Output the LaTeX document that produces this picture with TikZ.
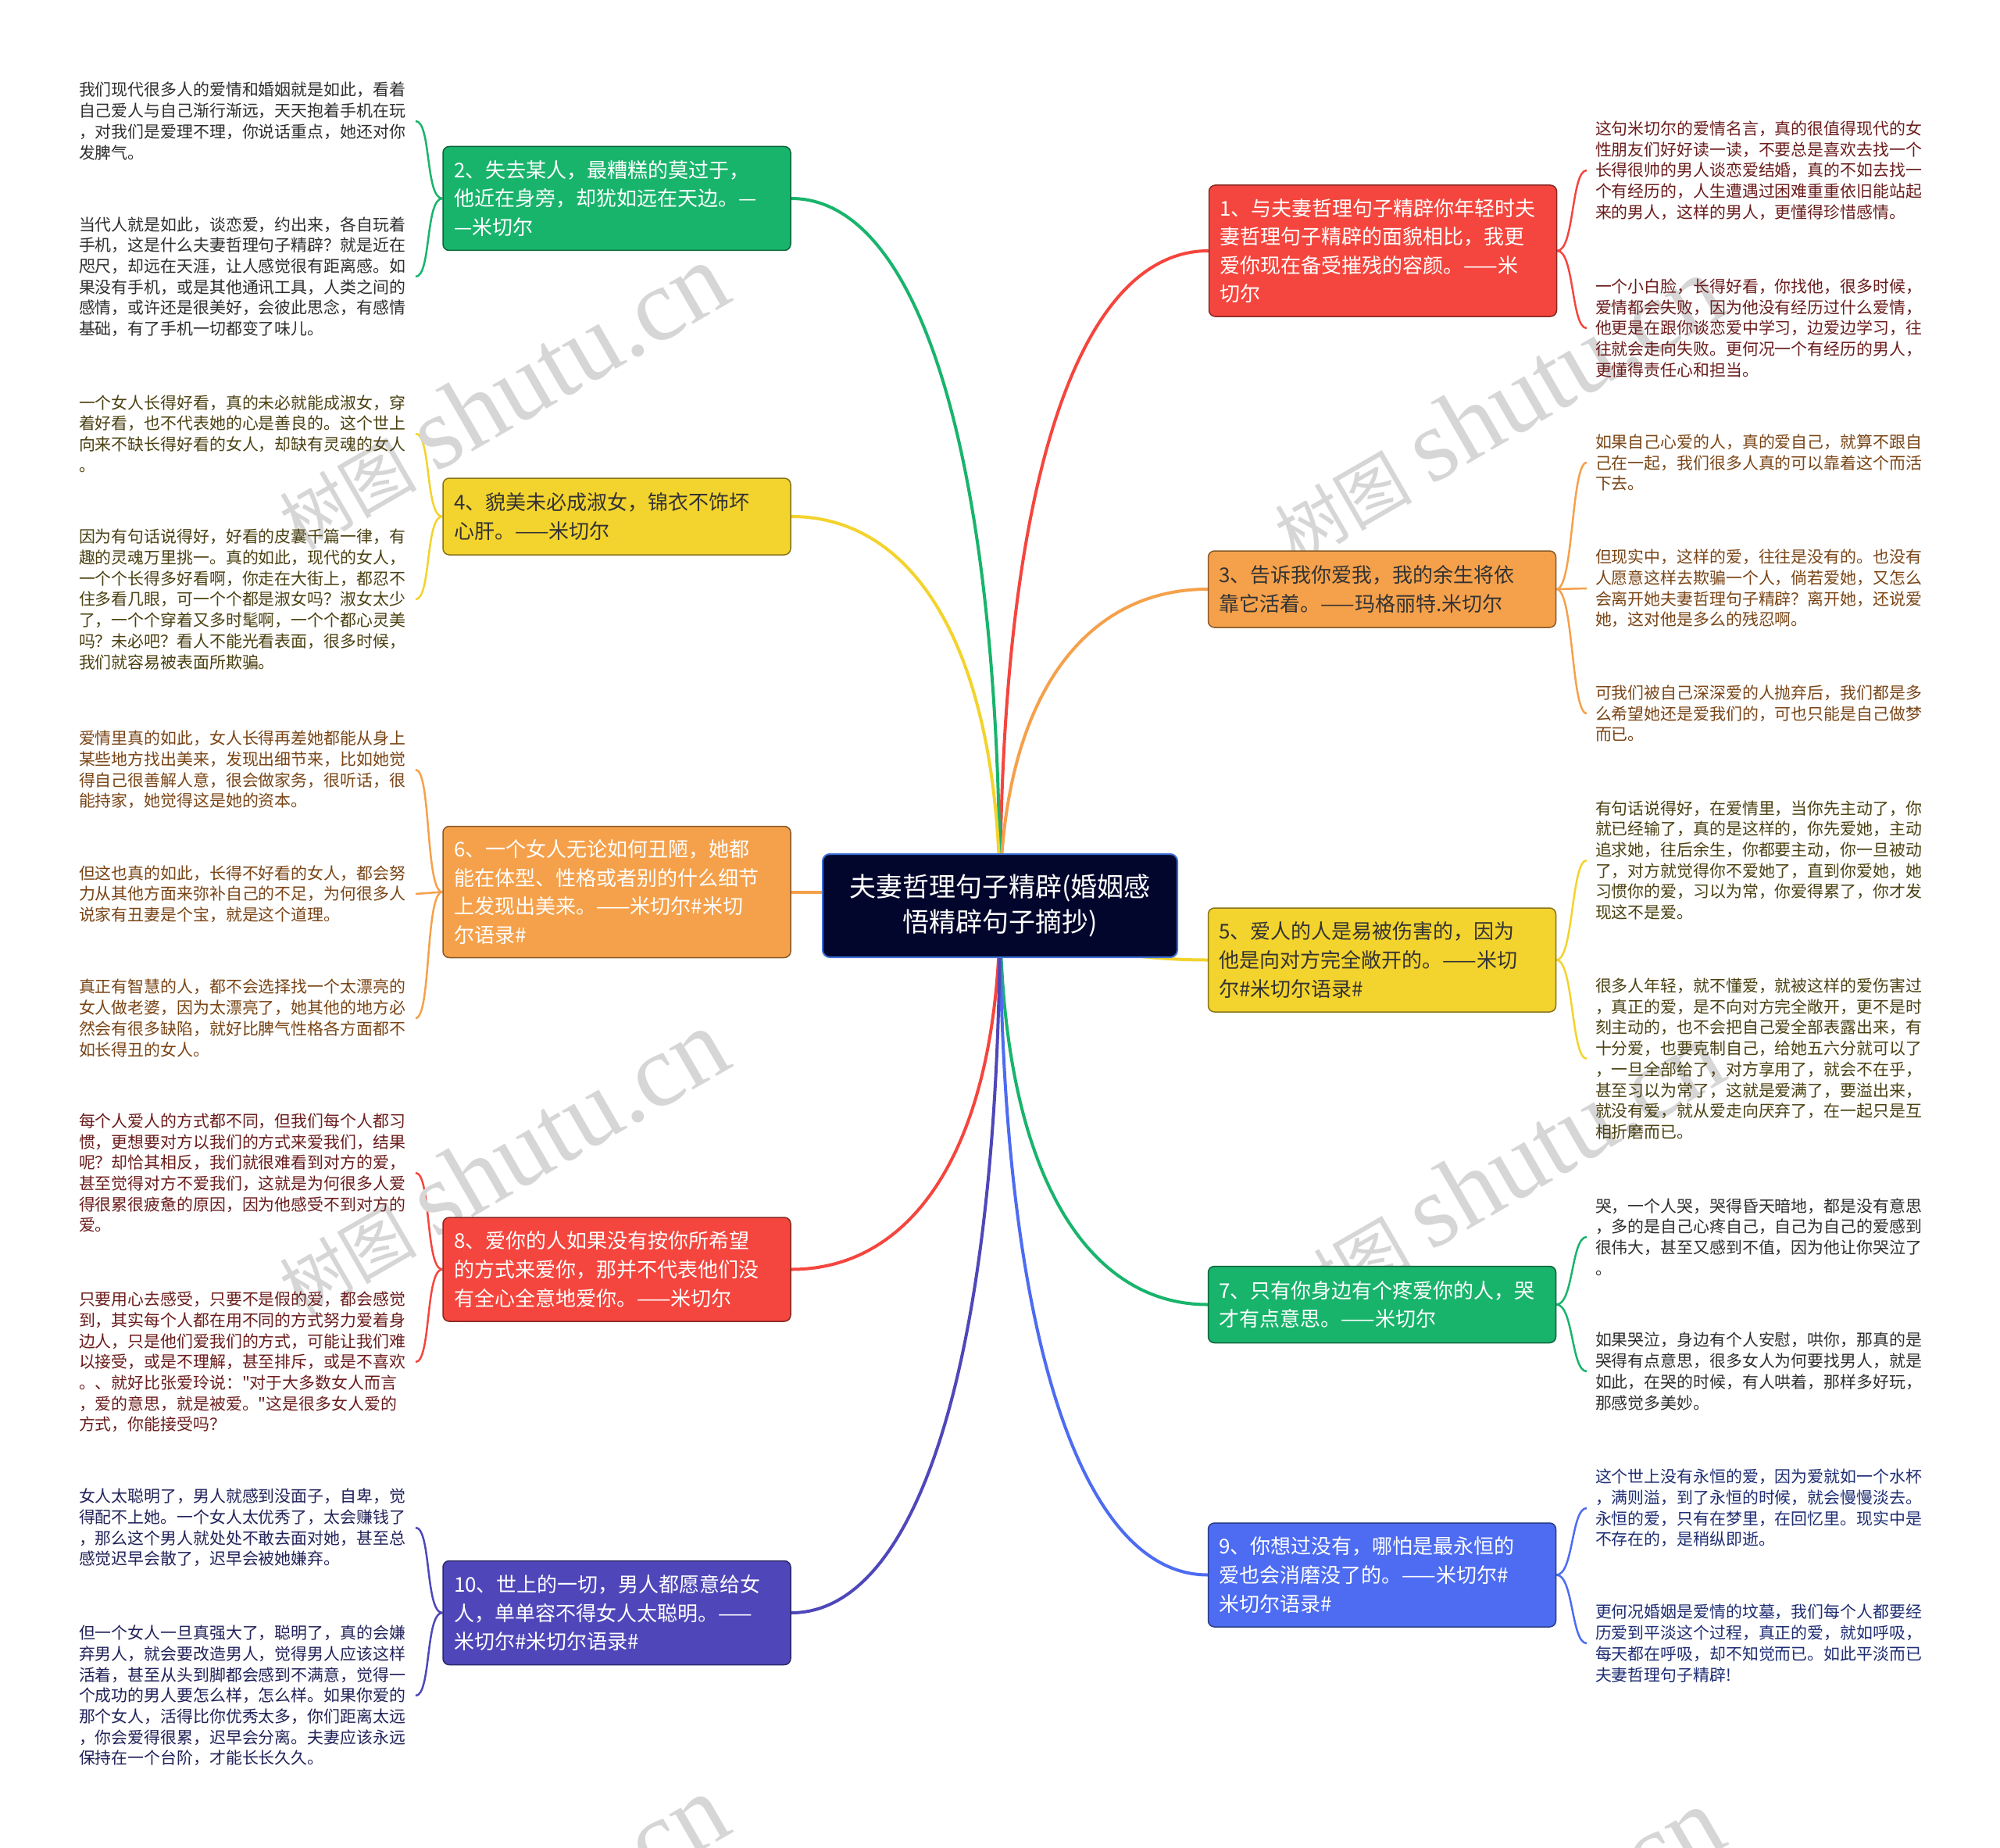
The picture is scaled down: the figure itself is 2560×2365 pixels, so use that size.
\documentclass[tikz,border=0pt]{standalone}
\usepackage{fontspec}
\setmainfont{Noto Sans CJK SC}[Ligatures=TeXOff]
\newfontfamily\wmlat{Liberation Serif}
\usetikzlibrary{calc}
\pgfdeclarelayer{paper}
\pgfdeclarelayer{bg}
\pgfdeclarelayer{wm}
\pgfsetlayers{paper,bg,wm,main}

\definecolor{cgreen}{HTML}{19B46C}
\definecolor{cred}{HTML}{F4463E}
\definecolor{corange}{HTML}{F5A14B}
\definecolor{cyellow}{HTML}{F3D32D}
\definecolor{cblue}{HTML}{4D6CF1}
\definecolor{cpurple}{HTML}{4F47B9}
\definecolor{cnavy}{HTML}{03062C}
\definecolor{cnavyline}{HTML}{3B6FD6}
\definecolor{tgreen}{HTML}{2E2E2E}
\definecolor{tyellow}{HTML}{4B4112}
\definecolor{torange}{HTML}{7A4516}
\definecolor{tred}{HTML}{6B1C1C}
\definecolor{tpurple}{HTML}{22225A}
\definecolor{tblue}{HTML}{1F2D73}
\definecolor{tdark}{HTML}{333333}
\definecolor{wmgray}{HTML}{D6D6D6}

\tikzset{
  branch/.style={rectangle, rounded corners=8pt, fill=#1, draw=#1!55!black,
    line width=1.5pt, text width=417pt, inner xsep=14pt, inner ysep=0pt,
    align=left, text=white, font=\fontsize{26}{36.6}\selectfont},
  two/.style={minimum height=98pt},
  three/.style={minimum height=133pt},
  four/.style={minimum height=168pt},
  leaftext/.style={anchor=west, inner sep=0pt, outer xsep=11pt, text width=420pt,
    align=left, text=#1, font=\fontsize{20.9}{26.7}\selectfont},
  mainline/.style={line width=4pt, #1},
  leafline/.style={line width=2.5pt, #1},
  wmark/.style={text=wmgray, rotate=30, inner sep=0pt, font=\fontsize{88}{88}\selectfont}
}
\newcommand\lconn[3]{\draw[leafline=#1] (#2.west) .. controls ($(#2.west)+(-22,0)$) and ($(#3.east)+(20,0)$) .. (#3.east);}
\newcommand\rconn[3]{\draw[leafline=#1] (#2.east) .. controls ($(#2.east)+(22,0)$) and ($(#3.west)+(-20,0)$) .. (#3.west);}
\newcommand\wmtext{树图\hspace{24pt}{\wmlat\fontsize{132}{132}\selectfont shutu.cn}}

\begin{document}
\begin{tikzpicture}[x=1pt,y=-1pt]
\useasboundingbox (0,0) rectangle (2560,2365);
\begin{pgfonlayer}{paper}
\fill[white] (0,0) rectangle (2560,2365);
\end{pgfonlayer}

% centre
\node[rectangle, rounded corners=9pt, fill=cnavy, draw=cnavyline, line width=2pt,
  minimum width=454pt, minimum height=132pt, align=center, text=white,
  font=\fontsize{34}{45}\selectfont] (C) at (1280,1159)
  {夫妻哲理句子精辟(婚姻感\\悟精辟句子摘抄)};

% branches
\node[branch=cred, four] (N1) at (1770,321)
  {1、与夫妻哲理句子精辟你年轻时夫\\妻哲理句子精辟的面貌相比，我更\\爱你现在备受摧残的容颜。——米\\切尔};
\node[branch=cgreen, three] (N2) at (789.5,254)
  {2、失去某人，最糟糕的莫过于，\\他近在身旁，却犹如远在天边。—\\—米切尔};
\node[branch=corange, two, text=tdark] (N3) at (1769,754)
  {3、告诉我你爱我，我的余生将依\\靠它活着。——玛格丽特.米切尔};
\node[branch=cyellow, two, text=tdark] (N4) at (789.5,661)
  {4、貌美未必成淑女，锦衣不饰坏\\心肝。——米切尔};
\node[branch=cyellow, three, text=tdark] (N5) at (1769,1228.5)
  {5、爱人的人是易被伤害的，因为\\他是向对方完全敞开的。——米切\\尔\#米切尔语录\#};
\node[branch=corange, four] (N6) at (789.5,1141.5)
  {6、一个女人无论如何丑陋，她都\\能在体型、性格或者别的什么细节\\上发现出美来。——米切尔\#米切\\尔语录\#};
\node[branch=cgreen, two] (N7) at (1769,1669.5)
  {7、只有你身边有个疼爱你的人，哭\\才有点意思。——米切尔};
\node[branch=cred, three] (N8) at (789.5,1624.5)
  {8、爱你的人如果没有按你所希望\\的方式来爱你，那并不代表他们没\\有全心全意地爱你。——米切尔};
\node[branch=cblue, three] (N9) at (1769,2015.5)
  {9、你想过没有，哪怕是最永恒的\\爱也会消磨没了的。——米切尔\#\\米切尔语录\#};
\node[branch=cpurple, three] (N10) at (789.5,2064)
  {10、世上的一切，男人都愿意给女\\人，单单容不得女人太聪明。——\\米切尔\#米切尔语录\#};

% left leaves
\node[leaftext=tgreen] (L2a) at (90,155) {我们现代很多人的爱情和婚姻就是如此，看着\\自己爱人与自己渐行渐远，天天抱着手机在玩\\，对我们是爱理不理，你说话重点，她还对你\\发脾气。};
\node[leaftext=tgreen] (L2b) at (90,354) {当代人就是如此，谈恋爱，约出来，各自玩着\\手机，这是什么夫妻哲理句子精辟？就是近在\\咫尺，却远在天涯，让人感觉很有距离感。如\\果没有手机，或是其他通讯工具，人类之间的\\感情，或许还是很美好，会彼此思念，有感情\\基础，有了手机一切都变了味儿。};
\node[leaftext=tyellow] (L4a) at (90,555) {一个女人长得好看，真的未必就能成淑女，穿\\着好看，也不代表她的心是善良的。这个世上\\向来不缺长得好看的女人，却缺有灵魂的女人\\。};
\node[leaftext=tyellow] (L4b) at (90,767) {因为有句话说得好，好看的皮囊千篇一律，有\\趣的灵魂万里挑一。真的如此，现代的女人，\\一个个长得多好看啊，你走在大街上，都忍不\\住多看几眼，可一个个都是淑女吗？淑女太少\\了，一个个穿着又多时髦啊，一个个都心灵美\\吗？未必吧？看人不能光看表面，很多时候，\\我们就容易被表面所欺骗。};
\node[leaftext=torange] (L6a) at (90,985) {爱情里真的如此，女人长得再差她都能从身上\\某些地方找出美来，发现出细节来，比如她觉\\得自己很善解人意，很会做家务，很听话，很\\能持家，她觉得这是她的资本。};
\node[leaftext=torange] (L6b) at (90,1144) {但这也真的如此，长得不好看的女人，都会努\\力从其他方面来弥补自己的不足，为何很多人\\说家有丑妻是个宝，就是这个道理。};
\node[leaftext=torange] (L6c) at (90,1303) {真正有智慧的人，都不会选择找一个太漂亮的\\女人做老婆，因为太漂亮了，她其他的地方必\\然会有很多缺陷，就好比脾气性格各方面都不\\如长得丑的女人。};
\node[leaftext=tred] (L8a) at (90,1501) {每个人爱人的方式都不同，但我们每个人都习\\惯，更想要对方以我们的方式来爱我们，结果\\呢？却恰其相反，我们就很难看到对方的爱，\\甚至觉得对方不爱我们，这就是为何很多人爱\\得很累很疲惫的原因，因为他感受不到对方的\\爱。};
\node[leaftext=tred] (L8b) at (90,1743) {只要用心去感受，只要不是假的爱，都会感觉\\到，其实每个人都在用不同的方式努力爱着身\\边人，只是他们爱我们的方式，可能让我们难\\以接受，或是不理解，甚至排斥，或是不喜欢\\。、就好比张爱玲说："对于大多数女人而言\\，爱的意思，就是被爱。"这是很多女人爱的\\方式，你能接受吗？};
\node[leaftext=tpurple] (L10a) at (90,1955) {女人太聪明了，男人就感到没面子，自卑，觉\\得配不上她。一个女人太优秀了，太会赚钱了\\，那么这个男人就处处不敢去面对她，甚至总\\感觉迟早会散了，迟早会被她嫌弃。};
\node[leaftext=tpurple] (L10b) at (90,2170) {但一个女人一旦真强大了，聪明了，真的会嫌\\弃男人，就会要改造男人，觉得男人应该这样\\活着，甚至从头到脚都会感到不满意，觉得一\\个成功的男人要怎么样，怎么样。如果你爱的\\那个女人，活得比你优秀太多，你们距离太远\\，你会爱得很累，迟早会分离。夫妻应该永远\\保持在一个台阶，才能长长久久。};

% right leaves
\node[leaftext=tred] (R1a) at (2031,218) {这句米切尔的爱情名言，真的很值得现代的女\\性朋友们好好读一读，不要总是喜欢去找一个\\长得很帅的男人谈恋爱结婚，真的不如去找一\\个有经历的，人生遭遇过困难重重依旧能站起\\来的男人，这样的男人，更懂得珍惜感情。};
\node[leaftext=tred] (R1b) at (2031,420) {一个小白脸，长得好看，你找他，很多时候，\\爱情都会失败，因为他没有经历过什么爱情，\\他更是在跟你谈恋爱中学习，边爱边学习，往\\往就会走向失败。更何况一个有经历的男人，\\更懂得责任心和担当。};
\node[leaftext=torange] (R3a) at (2031,592) {如果自己心爱的人，真的爱自己，就算不跟自\\己在一起，我们很多人真的可以靠着这个而活\\下去。};
\node[leaftext=torange] (R3b) at (2031,753) {但现实中，这样的爱，往往是没有的。也没有\\人愿意这样去欺骗一个人，倘若爱她，又怎么\\会离开她夫妻哲理句子精辟？离开她，还说爱\\她，这对他是多么的残忍啊。};
\node[leaftext=torange] (R3c) at (2031,913) {可我们被自己深深爱的人抛弃后，我们都是多\\么希望她还是爱我们的，可也只能是自己做梦\\而已。};
\node[leaftext=tyellow] (R5a) at (2031,1101) {有句话说得好，在爱情里，当你先主动了，你\\就已经输了，真的是这样的，你先爱她，主动\\追求她，往后余生，你都要主动，你一旦被动\\了，对方就觉得你不爱她了，直到你爱她，她\\习惯你的爱，习以为常，你爱得累了，你才发\\现这不是爱。};
\node[leaftext=tyellow] (R5b) at (2031,1355) {很多人年轻，就不懂爱，就被这样的爱伤害过\\，真正的爱，是不向对方完全敞开，更不是时\\刻主动的，也不会把自己爱全部表露出来，有\\十分爱，也要克制自己，给她五六分就可以了\\，一旦全部给了，对方享用了，就会不在乎，\\甚至习以为常了，这就是爱满了，要溢出来，\\就没有爱，就从爱走向厌弃了，在一起只是互\\相折磨而已。};
\node[leaftext=tgreen] (R7a) at (2031,1583) {哭，一个人哭，哭得昏天暗地，都是没有意思\\，多的是自己心疼自己，自己为自己的爱感到\\很伟大，甚至又感到不值，因为他让你哭泣了\\。};
\node[leaftext=tgreen] (R7b) at (2031,1755) {如果哭泣，身边有个人安慰，哄你，那真的是\\哭得有点意思，很多女人为何要找男人，就是\\如此，在哭的时候，有人哄着，那样多好玩，\\那感觉多美妙。};
\node[leaftext=tblue] (R9a) at (2031,1930) {这个世上没有永恒的爱，因为爱就如一个水杯\\，满则溢，到了永恒的时候，就会慢慢淡去。\\永恒的爱，只有在梦里，在回忆里。现实中是\\不存在的，是稍纵即逝。};
\node[leaftext=tblue] (R9b) at (2031,2103) {更何况婚姻是爱情的坟墓，我们每个人都要经\\历爱到平淡这个过程，真正的爱，就如呼吸，\\每天都在呼吸，却不知觉而已。如此平淡而已\\夫妻哲理句子精辟!};

% watermarks
\begin{pgfonlayer}{wm}
\begin{scope}
\clip (0,0) rectangle (2560,2365);
\node[wmark] (W1) at (642,508) {\wmtext};
\node[wmark] (W2) at (1916,524) {\wmtext};
\node[wmark] (W3) at (642,1488) {\wmtext};
\node[wmark] (W4) at (1916,1504) {\wmtext};
\node[wmark] (W5) at (642,2468) {\wmtext};
\node[wmark] (W6) at (1916,2484) {\wmtext};
\end{scope}
\end{pgfonlayer}

% connectors
\begin{pgfonlayer}{bg}
\draw[mainline=cred] (C.center) .. controls (1280,600) and (1386,321) .. (N1.west);
\draw[mainline=cgreen] (C.center) .. controls (1280,571) and (1173,254) .. (N2.east);
\draw[mainline=corange] (C.center) .. controls (1280,896) and (1386,754) .. (N3.west);
\draw[mainline=cyellow] (C.center) .. controls (1280,835) and (1173,661) .. (N4.east);
\draw[mainline=cyellow] (C.center) .. controls (1280,1183) and (1386,1228.5) .. (N5.west);
\draw[mainline=corange] (N6.east) -- (N6.east -| C.west);
\draw[mainline=cgreen] (C.center) .. controls (1280,1491) and (1386,1669.5) .. (N7.west);
\draw[mainline=cred] (C.center) .. controls (1280,1461) and (1173,1624.5) .. (N8.east);
\draw[mainline=cblue] (C.center) .. controls (1280,1715) and (1386,2015.5) .. (N9.west);
\draw[mainline=cpurple] (C.center) .. controls (1280,1747) and (1173,2064) .. (N10.east);

\lconn{cgreen}{N2}{L2a}
\lconn{cgreen}{N2}{L2b}
\lconn{cyellow}{N4}{L4a}
\lconn{cyellow}{N4}{L4b}
\lconn{corange}{N6}{L6a}
\draw[leafline=corange] (N6.west) -- (L6b.east);
\lconn{corange}{N6}{L6c}
\lconn{cred}{N8}{L8a}
\lconn{cred}{N8}{L8b}
\lconn{cpurple}{N10}{L10a}
\lconn{cpurple}{N10}{L10b}

\rconn{cred}{N1}{R1a}
\rconn{cred}{N1}{R1b}
\rconn{corange}{N3}{R3a}
\draw[leafline=corange] (N3.east) -- (R3b.west);
\rconn{corange}{N3}{R3c}
\rconn{cyellow}{N5}{R5a}
\rconn{cyellow}{N5}{R5b}
\rconn{cgreen}{N7}{R7a}
\rconn{cgreen}{N7}{R7b}
\rconn{cblue}{N9}{R9a}
\rconn{cblue}{N9}{R9b}
\end{pgfonlayer}
\end{tikzpicture}
\end{document}
